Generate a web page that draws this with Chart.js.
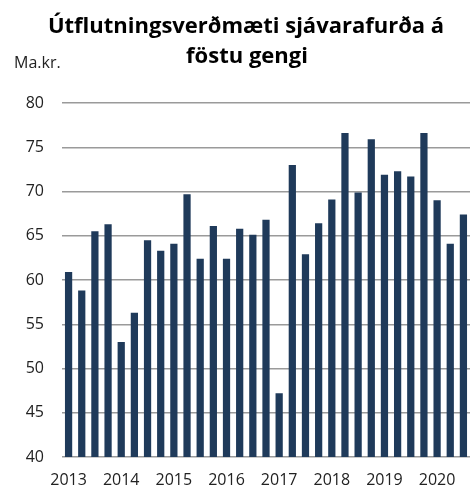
<!DOCTYPE html>
<html>
<head>
<meta charset="utf-8">
<script src="https://cdn.jsdelivr.net/npm/chart.js@4.4.0/dist/chart.umd.min.js"></script>
<style>
  html, body { margin: 0; padding: 0; background: #fff; }
  #wrap { width: 475px; height: 490px; }
</style>
</head>
<body>
<div id="wrap"><canvas id="chart" width="475" height="490"></canvas></div>
<script>
// quarterly data, 2013 Q1 - 2020 Q3
const years = ['2013', '2014', '2015', '2016', '2017', '2018', '2019', '2020'];
const quarters = ['Q1', 'Q2', 'Q3', 'Q4'];
const values = [
  60.9, 58.8, 65.5, 66.3,
  53.0, 56.3, 64.5, 63.3,
  64.1, 69.7, 62.4, 66.1,
  62.4, 65.8, 65.1, 66.8,
  47.2, 73.0, 62.9, 66.4,
  69.1, 76.6, 69.9, 75.9,
  71.9, 72.3, 71.7, 76.6,
  69.0, 64.1, 67.4
];
const yTicks = [40, 45, 50, 55, 60, 65, 70, 75, 80];

const titleLines = ['Útflutningsverðmæti sjávarafurða á', 'föstu gengi'];
const unitLabel = 'Ma.kr.';

const labels = [];
years.forEach(y => quarters.forEach(q => labels.push(y + ' ' + q)));
labels.length = values.length;

const FONT = '"Open Sans", sans-serif';

// title + unit text drawn straight on the canvas
const headerText = {
  id: 'headerText',
  afterDraw(chart) {
    const ctx = chart.ctx;
    ctx.save();
    ctx.fillStyle = '#000';
    ctx.textAlign = 'center';
    ctx.textBaseline = 'middle';
    ctx.font = 'bold 22px ' + FONT;
    ctx.fillText(titleLines[0], 246, 27);
    ctx.fillText(titleLines[1], 247, 57);
    ctx.textAlign = 'left';
    ctx.font = '16px ' + FONT;
    ctx.fillStyle = '#222';
    ctx.fillText(unitLabel, 14, 63);
    ctx.restore();
  }
};

new Chart(document.getElementById('chart'), {
  type: 'bar',
  data: {
    labels: labels,
    datasets: [{
      data: values,
      backgroundColor: '#1f3a5a',
      borderWidth: 0,
      categoryPercentage: 1.0,
      barPercentage: 0.55
    }]
  },
  options: {
    responsive: false,
    animation: false,
    layout: { padding: { top: 103, right: 5, left: 0, bottom: 0 } },
    plugins: {
      legend: { display: false },
      tooltip: { enabled: false }
    },
    scales: {
      x: {
        grid: { display: false },
        border: { display: false },
        ticks: {
          autoSkip: false,
          maxRotation: 0,
          padding: 6,
          color: '#222',
          font: { family: FONT, size: 16 },
          callback: (val, i) => (i % 4 === 0 ? years[i / 4] : '')
        },
        afterFit: s => { s.height = 33; }
      },
      y: {
        min: 40,
        max: 80,
        afterBuildTicks: s => { s.ticks = yTicks.map(v => ({ value: v })); },
        grid: { color: '#9a9a9a', lineWidth: 1.5, drawTicks: false },
        border: { display: false },
        ticks: {
          padding: 18,
          color: '#222',
          font: { family: FONT, size: 16 }
        },
        afterFit: s => { s.width = 62; }
      }
    }
  },
  plugins: [headerText]
});
</script>
</body>
</html>
